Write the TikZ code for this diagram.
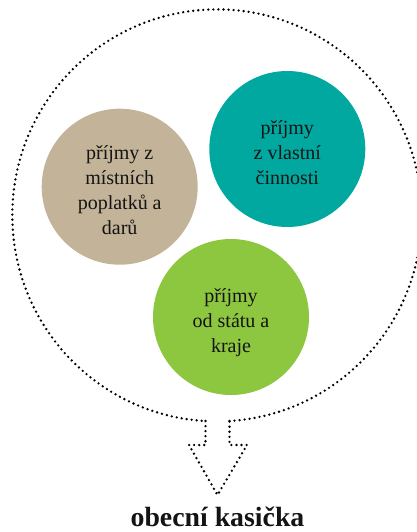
\documentclass[tikz,border=0pt]{standalone}
\usepackage{fontspec}
\setmainfont{Liberation Serif}
\definecolor{tan}{HTML}{C3B398}
\definecolor{teal2}{HTML}{00A8A0}
\definecolor{green2}{HTML}{8DC63F}
\newcommand{\lowerstrut}{\rule{0pt}{21pt}}
\newcommand{\lowerstrutb}{\rule{0pt}{25pt}}
\tikzset{
  disc/.style={circle,minimum size=156pt,inner sep=0pt,align=center,text=black!92,font=\fontsize{20}{25.2}\selectfont},
  dots/.style={line width=2.6pt,line cap=round,dash pattern=on 0pt off 5.05pt,draw=black}
}
\begin{document}
\begin{tikzpicture}[x=1pt,y=-1pt]
\useasboundingbox (0,0) rectangle (417,532);
\coordinate (big) at (217,216);
\coordinate (sl) at (205.5,421);
\coordinate (sr) at (229.5,421);
\coordinate (nl) at (205.5,445);
\coordinate (nr) at (229.5,445);
\coordinate (hl) at (189,445);
\coordinate (hr) at (247,445);
\coordinate (tip) at (217.5,495);
\draw[dots] (sr) arc[start angle=86.5,end angle=-266.5,x radius=204.7pt,y radius=-206pt] ;
\draw[dots] (sl) -- (nl) -- (hl) -- (tip) -- (hr) -- (nr) -- (sr);
\node[disc,fill=tan] (a) at (119.7,186.7) {\lowerstrut příjmy z\\místních\\poplatků a\\darů};
\node[disc,fill=teal2] (b) at (287.3,149) {\lowerstrut příjmy\\z vlastní\\činnosti};
\node[disc,fill=green2] (c) at (231,317) {\lowerstrutb příjmy\\od státu a\\kraje};
\node[font=\bfseries\fontsize{27.8}{30}\selectfont,text=black!92] (t) at (217.5,517) {obecní kasička};
\end{tikzpicture}
\end{document}
